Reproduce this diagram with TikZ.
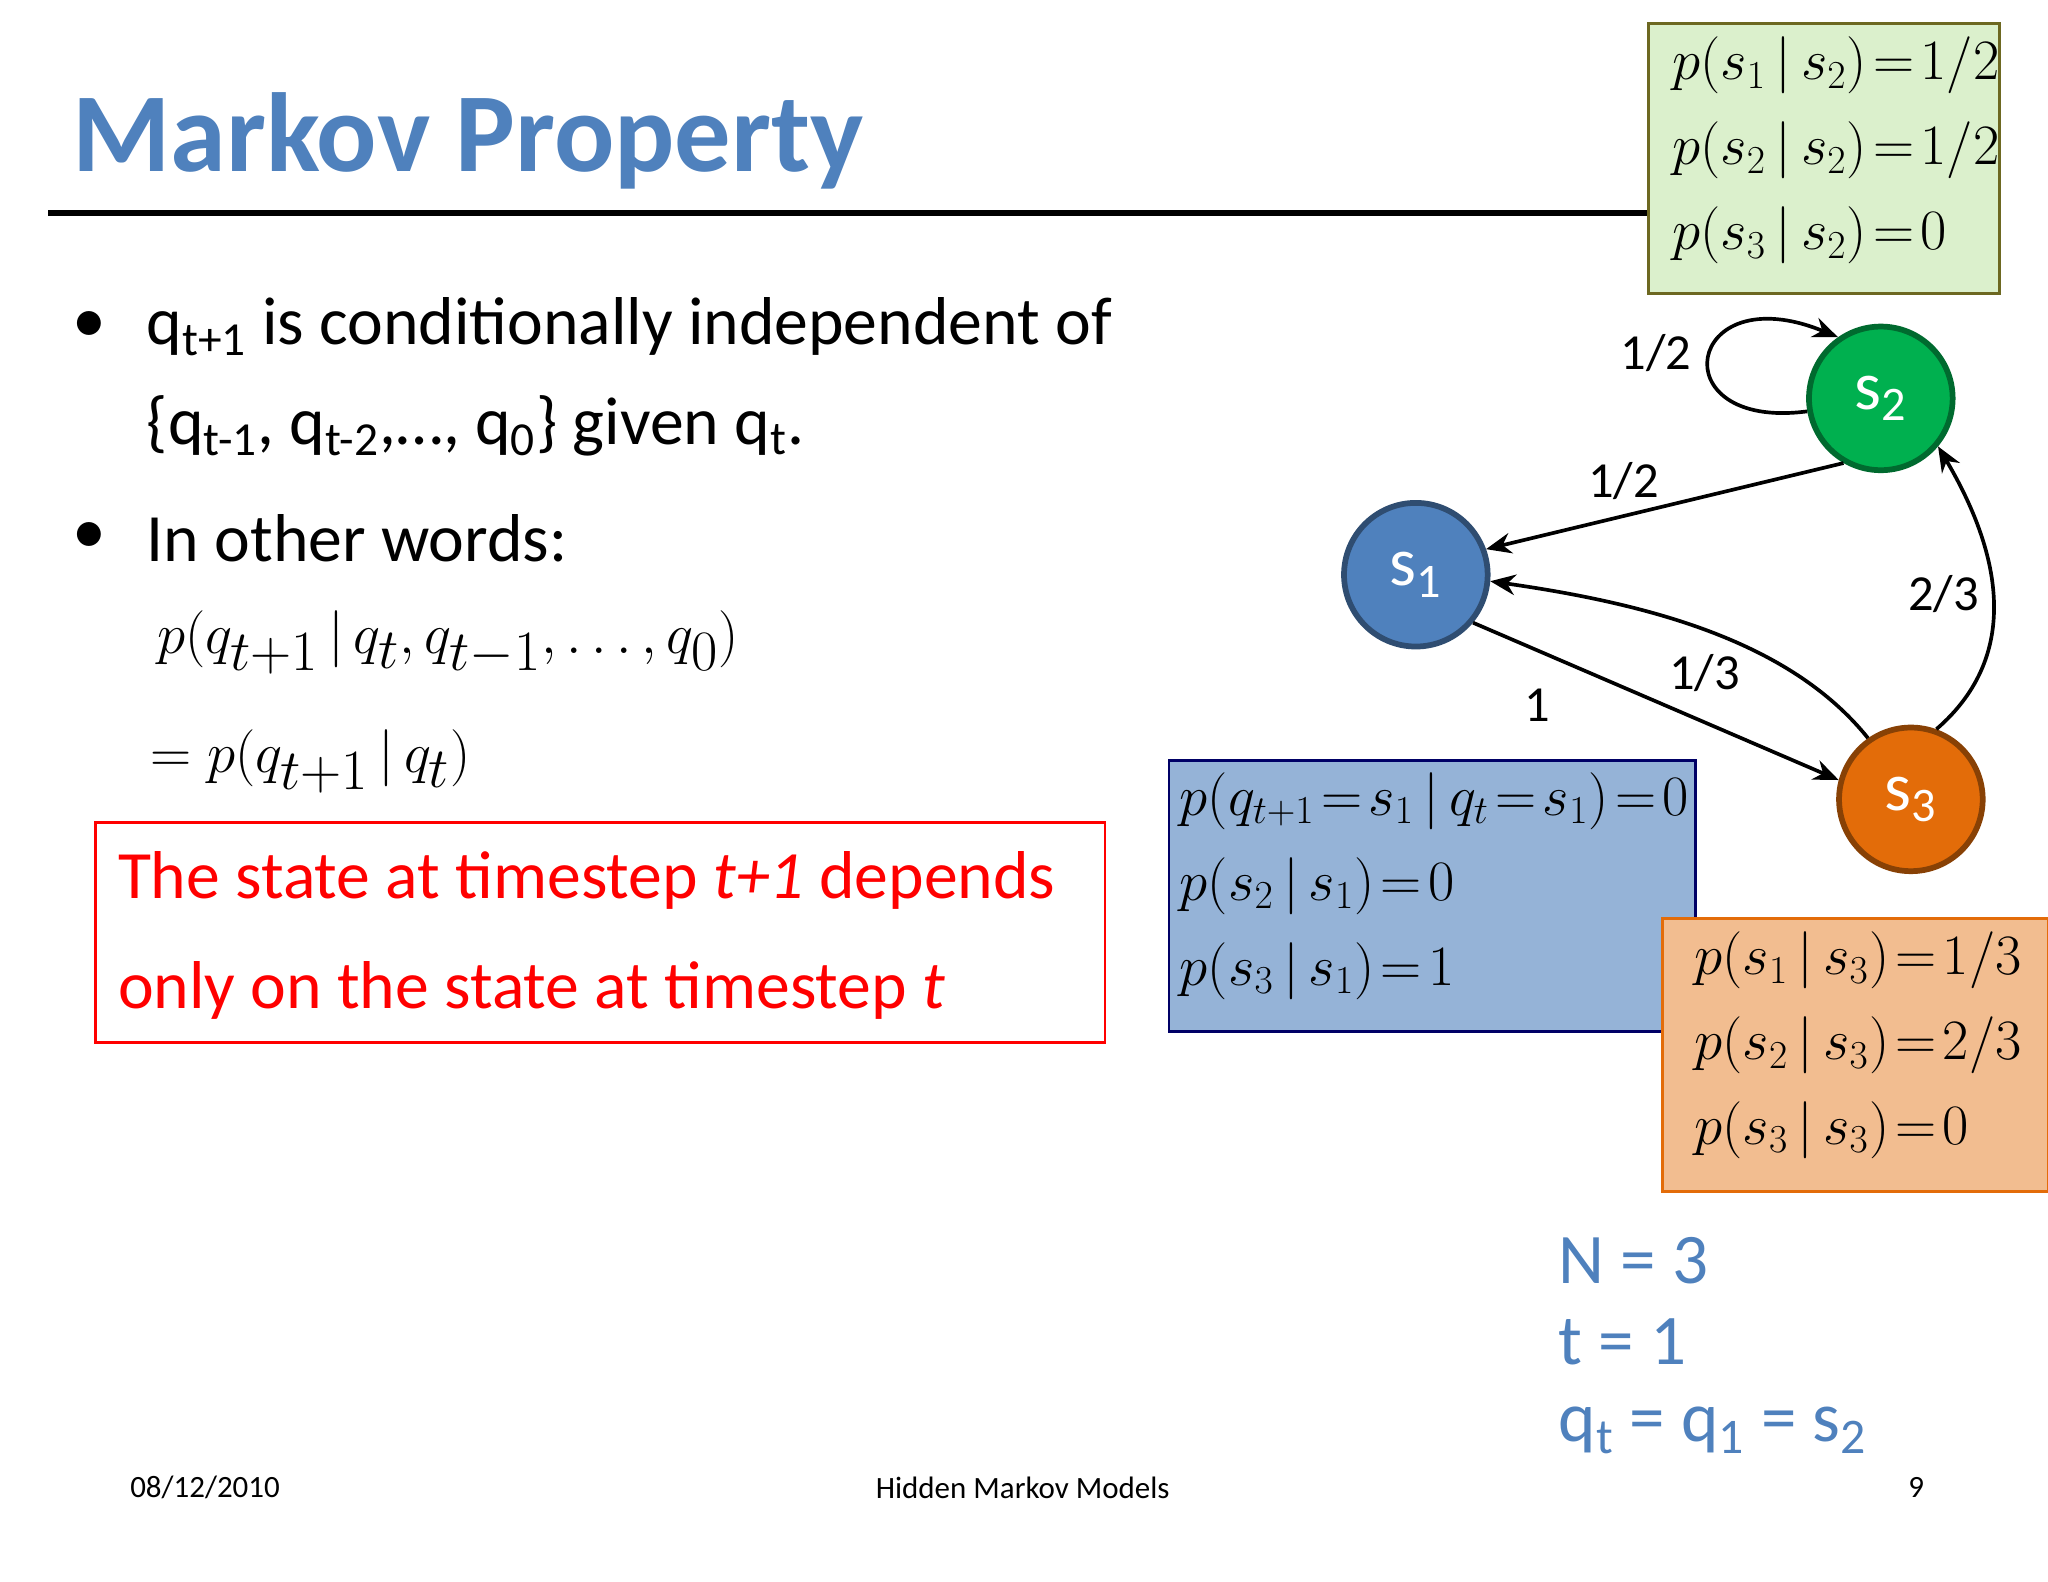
\documentclass[tikz,border=0pt]{standalone}
\usepackage{fontspec}
\setmainfont{Carlito}
\usetikzlibrary{arrows.meta}
\definecolor{ttl}{HTML}{4F81BD}
\definecolor{sone}{HTML}{4F81BD}
\definecolor{stwo}{HTML}{00B04F}
\definecolor{sthree}{HTML}{E36C09}
\newcommand{\gv}{\,|\,}
\tikzset{
 st/.style={circle,draw=#1!60!black,fill=#1,line width=2.5pt,minimum size=2.2cm,inner sep=0,text=white,font=\fontsize{30}{34}\selectfont},
 edg/.style={-{Stealth[length=11pt,width=9pt]},line width=1.6pt},
 lab/.style={font=\fontsize{22}{26}\selectfont},
 body/.style={anchor=west,font=\fontsize{29.5}{36}\selectfont,inner sep=0},
 mbox/.style={font=\fontsize{23.5}{27}\selectfont,align=left,anchor=north west,inner sep=0},
 foot/.style={font=\fontsize{13.5}{16}\selectfont}
}
\begin{document}
\begin{tikzpicture}[x=0.02cm,y=-0.02cm]
\useasboundingbox[fill=white] (0,0) rectangle (1568,1211);
\node[anchor=west,inner sep=0,text=ttl,font=\fontsize{49}{58}\selectfont\bfseries] (title) at (55,108) {Markov Property};
\draw[line width=2.5pt] (37,163) -- (1262,163);
% bullets
\node[body] (b1) at (55,250) {•};
\node[body] (t1) at (112,250) {q\textsubscript{t+1} is conditionally independent of};
\node[body] (t2) at (112,326) {\{q\textsubscript{t-1}, q\textsubscript{t-2},…, q\textsubscript{0}\} given q\textsubscript{t}.};
\node[body] (b2) at (55,412) {•};
\node[body] (t3) at (112,412) {In other words:};
\node[body,font=\fontsize{33}{38}\selectfont] (e1) at (120,492) {$p\bigl(q_{t+1}\gv q_t, q_{t-1},\ldots,q_0\bigr)$};
\node[body,font=\fontsize{33}{38}\selectfont] (e2) at (115,583) {$=p\bigl(q_{t+1}\gv q_t\bigr)$};
\draw[red,line width=1.3pt] (73,630) rectangle (846,798);
\node[body,text=red,align=left,font=\fontsize{29.5}{48}\selectfont] (rt) at (90,716) {The state at timestep \textit{t+1} depends\\only on the state at timestep \textit{t}};
% boxes
\draw[draw=olive!70!black,fill=green!40!olive!20!white,line width=1.3pt] (1262,18) rectangle (1531,225);
\node[mbox] (g) at (1280,28) {$p\bigl(s_1\gv s_2\bigr)\!=\!1/2$\\[10pt]$p\bigl(s_2\gv s_2\bigr)\!=\!1/2$\\[10pt]$p\bigl(s_3\gv s_2\bigr)\!=\!0$};
\draw[draw=blue!40!black,fill=sone!60!white,line width=1.3pt] (895,582) rectangle (1298,790);
\node[mbox] (bb) at (903,591) {$p\bigl(q_{t+1}\!=\!s_1\gv q_t\!=\!s_1\bigr)\!=\!0$\\[10pt]$p\bigl(s_2\gv s_1\bigr)\!=\!0$\\[10pt]$p\bigl(s_3\gv s_1\bigr)\!=\!1$};
\draw[draw=sthree,fill=sthree!45!white,line width=1.3pt] (1273,703) rectangle (1568,912);
\node[mbox] (ob) at (1297,713) {$p\bigl(s_1\gv s_3\bigr)\!=\!1/3$\\[10pt]$p\bigl(s_2\gv s_3\bigr)\!=\!2/3$\\[10pt]$p\bigl(s_3\gv s_3\bigr)\!=\!0$};
% states
\node[st=sone] (s1) at (1084,440) {s\textsubscript{1}};
\node[st=stwo] (s2) at (1440,305) {s\textsubscript{2}};
\node[st=sthree] (s3) at (1463,612) {s\textsubscript{3}};
\draw[edg] (s2.-120) -- (s1.20);
\draw[edg] (s2.190) .. controls (1270,330) and (1290,210) .. (s2.125);
\draw[edg] (s1.-40) -- (s3.165);
\draw[edg] (s3.125) .. controls (1370,490) and (1260,462) .. (s1.-5);
\draw[edg] (s3.70) .. controls (1550,500) and (1530,420) .. (s2.-40);
\node[lab] (l1) at (1268,270) {1/2};
\node[lab] (l2) at (1243,368) {1/2};
\node[lab] (l3) at (1177,540) {1};
\node[lab] (l4) at (1305,515) {1/3};
\node[lab] (l5) at (1488,455) {2/3};
% N text
\node[anchor=west,inner sep=0,text=ttl,font=\fontsize{31}{36}\selectfont] (n1) at (1193,965) {N = 3};
\node[anchor=west,inner sep=0,text=ttl,font=\fontsize{31}{36}\selectfont] (n2) at (1193,1027) {t = 1};
\node[anchor=west,inner sep=0,text=ttl,font=\fontsize{31}{36}\selectfont] (n3) at (1193,1095) {q\textsubscript{t} = q\textsubscript{1} = s\textsubscript{2}};
% footer
\node[foot] (f1) at (157,1139) {08/12/2010};
\node[foot] (f2) at (783,1139) {Hidden Markov Models};
\node[foot] (f3) at (1467,1139) {9};
\end{tikzpicture}
\end{document}
